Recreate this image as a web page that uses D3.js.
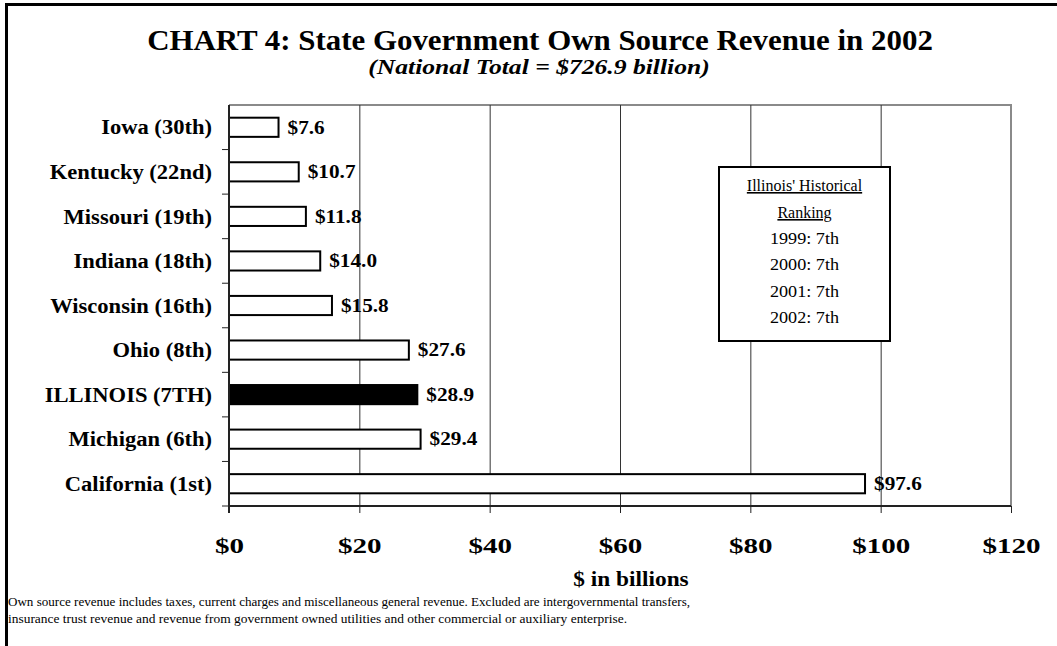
<!DOCTYPE html>
<html>
<head>
<meta charset="utf-8">
<script src="https://cdn.jsdelivr.net/npm/d3@7"></script>
<style>
  html, body { margin: 0; padding: 0; background: #fff; }
  svg { display: block; }
  text { font-family: "Liberation Serif", "Times New Roman", serif; fill: #000; }
</style>
</head>
<body>
<svg id="chart" width="1057" height="646"></svg>
<script>
// States and their own source revenue, 2002 ($ billions)
const states = ["Iowa (30th)", "Kentucky (22nd)", "Missouri (19th)", "Indiana (18th)",
                "Wisconsin (16th)", "Ohio (8th)", "ILLINOIS (7TH)", "Michigan (6th)", "California (1st)"];
const revenue = [7.6, 10.7, 11.8, 14.0, 15.8, 27.6, 28.9, 29.4, 97.6];
const highlightState = "ILLINOIS (7TH)";
const xTicks = [0, 20, 40, 60, 80, 100, 120];

const titleText = "CHART 4: State Government Own Source Revenue in 2002";
const subtitleText = "(National Total = $726.9 billion)";
const xAxisTitle = "$ in billions";
const rankingTitle = ["Illinois' Historical", "Ranking"];
const rankingYears = ["1999", "2000", "2001", "2002"];
const rankingValues = ["7th", "7th", "7th", "7th"];
const footnote = [
  "Own source revenue includes taxes, current charges and miscellaneous general revenue.  Excluded are intergovernmental transfers,",
  "insurance trust revenue and revenue from government owned utilities and other commercial or auxiliary enterprise."
];

const data = states.map((s, i) => ({ state: s, value: revenue[i] }));

const svg = d3.select("#chart");
const W = 1057, H = 646;
const plot = { left: 229, right: 1011, top: 105, bottom: 506 };

// widen glyphs horizontally by a factor (the chart uses a broad bold face)
function widen(sel, factor) {
  sel.each(function () {
    const w = this.getComputedTextLength();
    d3.select(this).attr("textLength", w * factor).attr("lengthAdjust", "spacingAndGlyphs");
  });
  return sel;
}

// outer frame
svg.append("rect")
  .attr("x", 6.5).attr("y", 4.5)
  .attr("width", W + 20).attr("height", H + 20)
  .attr("fill", "none").attr("stroke", "#000").attr("stroke-width", 3);

// titles
svg.append("text")
  .attr("x", 540).attr("y", 50)
  .attr("text-anchor", "middle")
  .style("font-size", "30px").style("font-weight", "bold")
  .text(titleText)
  .call(widen, 1.03);

svg.append("text")
  .attr("x", 539).attr("y", 74)
  .attr("text-anchor", "middle")
  .style("font-size", "20px").style("font-weight", "bold").style("font-style", "italic")
  .text(subtitleText)
  .call(widen, 1.28);

const x = d3.scaleLinear().domain([0, 120]).range([plot.left, plot.right]);
const y = d3.scaleBand().domain(states).range([plot.top, plot.bottom]).paddingInner(0.57).paddingOuter(0.285);
const yEdges = d3.scaleBand().domain(states).range([plot.top, plot.bottom]).padding(0);

// plot frame (top and right edges)
svg.append("path")
  .attr("d", `M${plot.left},${plot.top}H${plot.right}V${plot.bottom}`)
  .attr("fill", "none").attr("stroke", "#8a8a8a").attr("stroke-width", 2);

// vertical gridlines
svg.append("g")
  .selectAll("line")
  .data(xTicks.filter(t => t > 0 && t < 120))
  .join("line")
  .attr("x1", d => x(d) + 0.5).attr("x2", d => x(d) + 0.5)
  .attr("y1", plot.top).attr("y2", plot.bottom)
  .attr("stroke", "#333").attr("stroke-width", 1);

// bars
svg.append("g")
  .selectAll("rect")
  .data(data)
  .join("rect")
  .attr("x", x(0))
  .attr("y", d => y(d.state))
  .attr("width", d => x(d.value) - x(0))
  .attr("height", y.bandwidth())
  .attr("fill", d => d.state === highlightState ? "#000" : "#fff")
  .attr("stroke", "#000").attr("stroke-width", 2);

// value labels
svg.append("g")
  .selectAll("text")
  .data(data)
  .join("text")
  .attr("x", d => x(d.value) + 9)
  .attr("y", d => y(d.state) + y.bandwidth() / 2)
  .attr("dy", "0.35em")
  .style("font-size", "18px").style("font-weight", "bold")
  .text(d => "$" + d.value.toFixed(1))
  .call(widen, 1.18);

// x axis
const xAxis = d3.axisBottom(x).tickValues(xTicks).tickSize(7).tickFormat(d => "$" + d);
const gx = svg.append("g")
  .attr("transform", `translate(0,${plot.bottom})`)
  .call(xAxis);
gx.select(".domain").attr("stroke", "#222").attr("stroke-width", 2).attr("d", `M${plot.left},0H${plot.right}`);
gx.selectAll(".tick line").attr("stroke", "#222").attr("stroke-width", 1);
gx.selectAll(".tick text")
  .attr("y", 31)
  .style("font-family", "'Liberation Serif', serif")
  .style("font-size", "22px").style("font-weight", "bold").attr("fill", "#000")
  .call(widen, 1.32);

// y axis: category labels, ticks between categories
const gy = svg.append("g").attr("transform", `translate(${plot.left},0)`);
gy.append("line")
  .attr("x1", 0).attr("x2", 0).attr("y1", plot.top).attr("y2", plot.bottom + 7)
  .attr("stroke", "#222").attr("stroke-width", 2);
gy.selectAll("line.tick")
  .data(states.slice(1))
  .join("line")
  .attr("class", "tick")
  .attr("x1", -7).attr("x2", 0)
  .attr("y1", d => yEdges(d)).attr("y2", d => yEdges(d))
  .attr("stroke", "#222").attr("stroke-width", 1);
gy.append("line")
  .attr("x1", -7).attr("x2", 0).attr("y1", plot.bottom).attr("y2", plot.bottom)
  .attr("stroke", "#222").attr("stroke-width", 1);
gy.selectAll("text")
  .data(states)
  .join("text")
  .attr("x", -17)
  .attr("y", d => yEdges(d) + yEdges.bandwidth() / 2)
  .attr("dy", "0.35em")
  .attr("text-anchor", "end")
  .style("font-size", "20.5px").style("font-weight", "bold")
  .text(d => d)
  .call(widen, 1.1);

// x axis title
svg.append("text")
  .attr("x", x(60) + 11).attr("y", 586)
  .attr("text-anchor", "middle")
  .style("font-size", "22px").style("font-weight", "bold")
  .text(xAxisTitle)
  .call(widen, 1.06);

// historical ranking box
const box = { x: 719, y: 167, w: 171, h: 174 };
const gb = svg.append("g");
gb.append("rect")
  .attr("x", box.x).attr("y", box.y).attr("width", box.w).attr("height", box.h)
  .attr("fill", "#fff").attr("stroke", "#000").attr("stroke-width", 2);
const cx = box.x + box.w / 2;
const lineYs = [191, 218, 244, 270, 297, 323];
rankingTitle.forEach((t, i) => {
  gb.append("text")
    .attr("x", cx).attr("y", lineYs[i])
    .attr("text-anchor", "middle")
    .style("font-size", "16px")
    .style("text-decoration", "underline")
    .text(t);
});
rankingYears.forEach((yr, i) => {
  gb.append("text")
    .attr("x", cx).attr("y", lineYs[i + 2])
    .attr("text-anchor", "middle")
    .style("font-size", "16.5px")
    .text(yr + ": " + rankingValues[i])
    .call(widen, 1.1);
});

// footnote
const footLengths = [682, 619];
footnote.forEach((line, i) => {
  svg.append("text")
    .attr("x", 8).attr("y", 606 + i * 17)
    .style("font-size", "11.5px")
    .attr("textLength", footLengths[i]).attr("lengthAdjust", "spacingAndGlyphs")
    .text(line);
});
</script>
</body>
</html>
